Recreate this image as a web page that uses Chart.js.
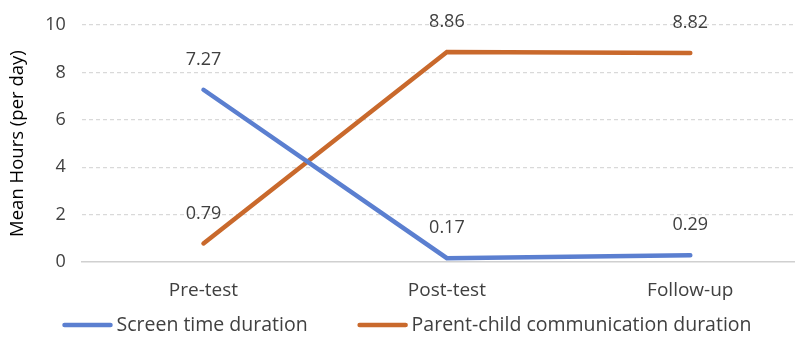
<!DOCTYPE html>
<html>
<head>
<meta charset="utf-8">
<script src="https://cdn.jsdelivr.net/npm/chart.js@4"></script>
<style>
html,body{margin:0;padding:0;background:#fff;overflow:hidden;}
#wrap{width:812px;height:348px;position:relative;}
</style>
</head>
<body>
<div id="wrap"><canvas id="c"></canvas></div>
<script>
const categories = ["Pre-test", "Post-test", "Follow-up"];
const screenTime = [7.27, 0.17, 0.29];
const parentChild = [0.79, 8.86, 8.82];
const seriesNames = ["Screen time duration", "Parent-child communication duration"];
const yTicks = [0, 2, 4, 6, 8, 10];

const BLUE = "#5b7fd0";
const ORANGE = "#c9692c";
const FONT = "'Open Sans', Lato, sans-serif";

const valueLabels = {
  id: "valueLabels",
  afterDatasetsDraw(chart) {
    const ctx = chart.ctx;
    ctx.save();
    ctx.font = "18px " + FONT;
    ctx.fillStyle = "#404040";
    ctx.textAlign = "center";
    ctx.textBaseline = "middle";
    chart.data.datasets.forEach((ds, i) => {
      const meta = chart.getDatasetMeta(i);
      meta.data.forEach((pt, j) => {
        ctx.fillText(ds.data[j].toFixed(2), pt.x, pt.y - 30);
      });
    });
    ctx.restore();
  }
};

const lineLegend = {
  id: "lineLegend",
  afterDraw(chart) {
    const ctx = chart.ctx;
    ctx.save();
    ctx.font = "19.5px " + FONT;
    ctx.textBaseline = "middle";
    ctx.textAlign = "left";
    const lineLen = 50, gapText = 4, gapItem = 50;
    const items = chart.data.datasets.map(ds => ({ text: ds.label, color: ds.borderColor, w: ctx.measureText(ds.label).width }));
    let total = 0;
    items.forEach((it, i) => { total += lineLen + gapText + it.w + (i ? gapItem : 0); });
    let x = 407 - total / 2;
    const y = 325;
    items.forEach((it, i) => {
      if (i) x += gapItem;
      ctx.strokeStyle = it.color;
      ctx.lineWidth = 4.5;
      ctx.lineCap = "round";
      ctx.beginPath();
      ctx.moveTo(x + 2, y);
      ctx.lineTo(x + lineLen - 2, y);
      ctx.stroke();
      ctx.fillStyle = "#404040";
      ctx.fillText(it.text, x + lineLen + gapText, y);
      x += lineLen + gapText + it.w;
    });
    ctx.restore();
  }
};

new Chart(document.getElementById("c"), {
  type: "line",
  data: {
    labels: categories,
    datasets: [
      { label: seriesNames[0], data: screenTime, borderColor: BLUE, backgroundColor: BLUE,
        borderWidth: 4.5, borderCapStyle: "round", pointRadius: 0, tension: 0 },
      { label: seriesNames[1], data: parentChild, borderColor: ORANGE, backgroundColor: ORANGE,
        borderWidth: 4.5, borderCapStyle: "round", pointRadius: 0, tension: 0 }
    ]
  },
  options: {
    responsive: true,
    maintainAspectRatio: false,
    animation: false,
    layout: { padding: { top: 5, left: 3, right: 0, bottom: 37 } },
    plugins: {
      legend: { display: false },
      tooltip: { enabled: false }
    },
    scales: {
      x: {
        offset: true,
        grid: { display: false },
        border: { display: true, color: "#d0d0d0", width: 1.5 },
        ticks: { font: { family: FONT, size: 19 }, color: "#404040", padding: 9 }
      },
      y: {
        min: 0, max: 10,
        afterBuildTicks(scale) { scale.ticks = yTicks.map(v => ({ value: v })); },
        grid: {
          color: (c) => c.tick && c.tick.value === 0 ? "rgba(0,0,0,0)" : "#d9d9d9",
          lineWidth: 1.2, drawTicks: false
        },
        border: { display: false, dash: [4, 3] },
        ticks: { font: { family: FONT, size: 18, lineHeight: 1.0 }, color: "#404040", padding: 16 },
        title: { display: true, text: "Mean Hours (per day)", font: { family: FONT, size: 18.5 }, color: "#000", padding: { bottom: 0 } }
      }
    }
  },
  plugins: [valueLabels, lineLegend]
});
</script>
</body>
</html>
